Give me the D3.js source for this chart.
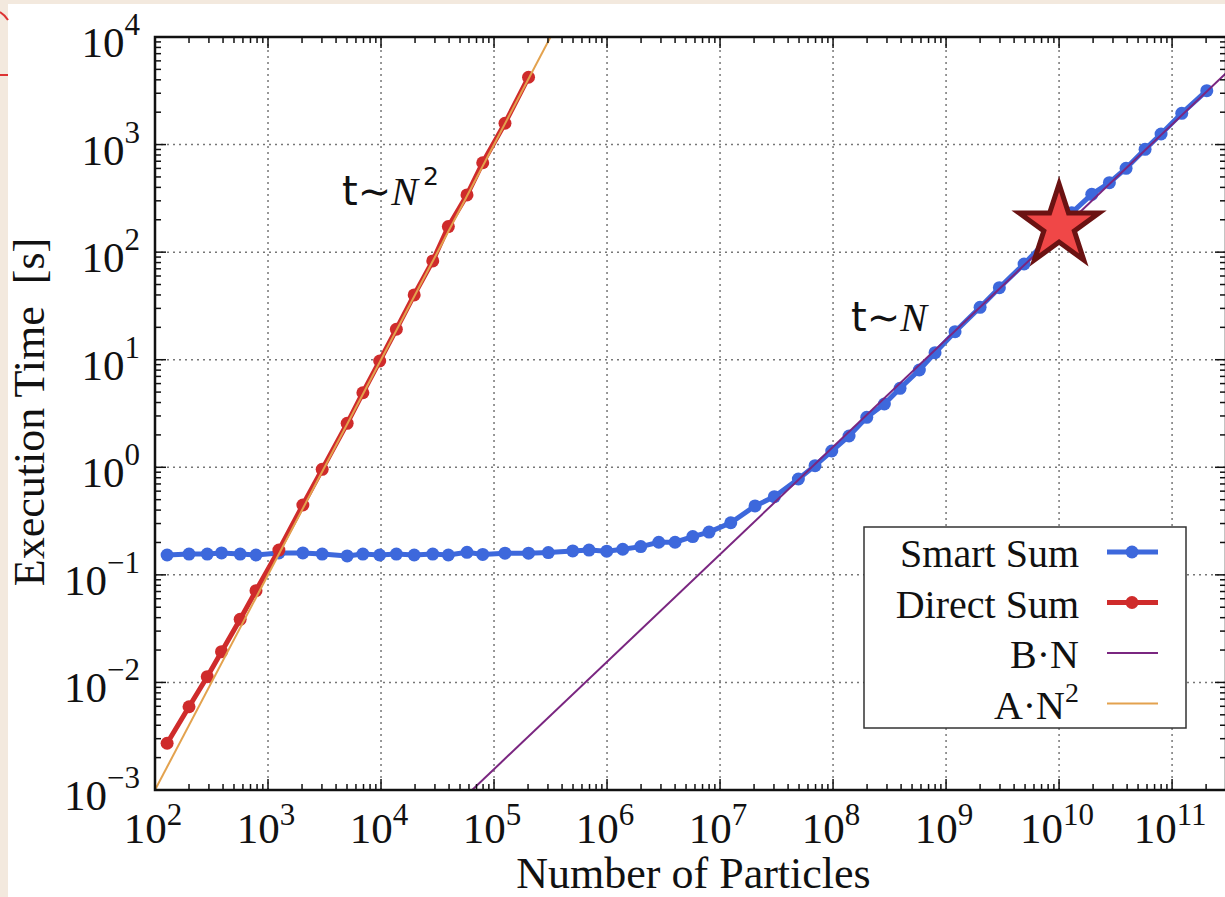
<!DOCTYPE html>
<html>
<head>
<meta charset="utf-8">
<script src="https://cdn.jsdelivr.net/npm/d3@7"></script>
<style>
  body { margin: 0; background: #f3e9de; overflow: hidden; }
  text { font-family: "Liberation Serif", "Times New Roman", serif; fill: #111; }
</style>
</head>
<body>
<div id="chart"></div>
<script>
// particle counts (shared by both runs)
var particles = [128, 200, 290, 388, 567, 783, 1248, 2034, 3016, 5018,
  6908, 9730, 13670, 19656, 28695, 39428, 57650, 79433, 125000, 202000,
  302300, 497200, 692900, 993800, 1.377e6, 1.987e6, 2.868e6, 3.998e6, 5.734e6, 7.991e6,
  1.244e7, 2.040e7, 3.023e7, 4.932e7, 6.929e7, 9.739e7, 1.385e8, 1.987e8, 2.844e8, 3.916e8,
  5.802e8, 7.991e8, 1.201e9, 2.000e9, 2.963e9, 4.901e9, 7.991e9, 1.295e10, 1.947e10, 2.787e10,
  3.916e10, 5.768e10, 7.991e10, 1.218e11, 2.028e11];

// execution time [s]
var smartTime = [0.153, 0.156, 0.156, 0.160, 0.156, 0.153, 0.160, 0.160, 0.156, 0.150,
  0.156, 0.153, 0.156, 0.153, 0.156, 0.153, 0.162, 0.155, 0.159, 0.159,
  0.161, 0.167, 0.170, 0.166, 0.173, 0.183, 0.201, 0.201, 0.227, 0.250,
  0.305, 0.437, 0.533, 0.778, 1.035, 1.417, 1.954, 2.916, 3.876, 5.424,
  8.024, 11.62, 18.22, 30.71, 46.71, 77.6, 132.5, 232.6, 345, 442,
  602, 903, 1254, 1953, 3168];

var directTime = [0.00272, 0.00594, 0.0113, 0.0193, 0.0386, 0.0713, 0.170, 0.446, 0.957, 2.56,
  4.93, 9.73, 19.2, 40.0, 82.8, 173, 340, 678, 1578, 4227];

// fit lines, end points
var fitBN = [[6.4e4, 1e-3], [3e11, 4.6e3]];
var fitAN2 = [[1e2, 1e-3], [3.16e5, 1e4]];

var starPoint = [1e10, 175];

var xExponents = [2, 3, 4, 5, 6, 7, 8, 9, 10, 11];
var yExponents = [-3, -2, -1, 0, 1, 2, 3, 4];

var legendLabels = ["Smart Sum", "Direct Sum", "B\u00b7N", "A\u00b7N"];
var legendColors = ["#3d68dc", "#cf2b2b", "#7a2680", "#e3a24e"];

var width = 1225, height = 897;
var blue = legendColors[0], red = legendColors[1], purple = legendColors[2], orange = legendColors[3];

var svg = d3.select("#chart")
    .append("svg")
    .attr("width", width)
    .attr("height", height);

// page background (white slide on beige)
svg.append("rect")
    .attr("x", 8).attr("y", 4)
    .attr("width", width - 8).attr("height", height - 4)
    .attr("fill", "white");
svg.append("path").attr("d", "M0,12 Q5,15 8,20").attr("stroke", "#d33").attr("stroke-width", 2).attr("fill", "none");
svg.append("path").attr("d", "M0,75 L8,75").attr("stroke", "#d33").attr("stroke-width", 2);

var x = d3.scaleLog()
    .domain([1e2, 3e11])
    .range([155, 1226]);
var y = d3.scaleLog()
    .domain([1e-3, 1e4])
    .range([790, 37]);

var x0 = x.range()[0], x1 = x.range()[1], y0 = y.range()[0], y1 = y.range()[1];

svg.append("clipPath").attr("id", "plot")
    .append("rect")
    .attr("x", x0).attr("y", y1)
    .attr("width", x1 - x0).attr("height", y0 - y1);

// grid
var grid = svg.append("g")
    .attr("stroke", "#777")
    .attr("stroke-width", 1.5)
    .attr("stroke-dasharray", "2,4");
xExponents.slice(1).forEach(function (e) {
    grid.append("line")
        .attr("x1", x(Math.pow(10, e))).attr("x2", x(Math.pow(10, e)))
        .attr("y1", y0).attr("y2", y1);
});
yExponents.slice(1, -1).forEach(function (e) {
    grid.append("line")
        .attr("x1", x0).attr("x2", x1)
        .attr("y1", y(Math.pow(10, e))).attr("y2", y(Math.pow(10, e)));
});

var plot = svg.append("g").attr("clip-path", "url(#plot)");

var line = d3.line()
    .x(function (d) { return x(d[0]); })
    .y(function (d) { return y(d[1]); });

var smart = particles.map(function (n, i) { return [n, smartTime[i]]; });
var direct = directTime.map(function (t, i) { return [particles[i], t]; });

// Smart Sum
plot.append("path")
    .datum(smart)
    .attr("d", line)
    .attr("fill", "none")
    .attr("stroke", blue)
    .attr("stroke-width", 5);
plot.append("g").selectAll("circle")
    .data(smart)
    .enter()
    .append("circle")
    .attr("cx", function (d) { return x(d[0]); })
    .attr("cy", function (d) { return y(d[1]); })
    .attr("r", 6.5)
    .attr("fill", blue);

// Direct Sum
plot.append("path")
    .datum(direct)
    .attr("d", line)
    .attr("fill", "none")
    .attr("stroke", red)
    .attr("stroke-width", 5);
plot.append("g").selectAll("circle")
    .data(direct)
    .enter()
    .append("circle")
    .attr("cx", function (d) { return x(d[0]); })
    .attr("cy", function (d) { return y(d[1]); })
    .attr("r", 6.5)
    .attr("fill", red);

// fits
plot.append("path").datum(fitBN).attr("d", line)
    .attr("stroke", purple).attr("stroke-width", 2).attr("fill", "none");
plot.append("path").datum(fitAN2).attr("d", line)
    .attr("stroke", orange).attr("stroke-width", 2).attr("fill", "none");

// frame
svg.append("rect")
    .attr("x", x0).attr("y", y1)
    .attr("width", x1 - x0).attr("height", y0 - y1)
    .attr("fill", "none")
    .attr("stroke", "#111")
    .attr("stroke-width", 2.5);

// ticks (inward, all four sides)
var ticks = svg.append("g").attr("stroke", "#111").attr("stroke-width", 1.5);
xExponents.forEach(function (e) {
    for (var m = 1; m <= 9; m++) {
        var v = m * Math.pow(10, e);
        if (v > x.domain()[1]) break;
        var len = m === 1 ? 11 : 6;
        ticks.append("line").attr("x1", x(v)).attr("x2", x(v)).attr("y1", y0).attr("y2", y0 - len);
        ticks.append("line").attr("x1", x(v)).attr("x2", x(v)).attr("y1", y1).attr("y2", y1 + len);
    }
});
yExponents.forEach(function (e) {
    for (var m = 1; m <= 9; m++) {
        var v = m * Math.pow(10, e);
        if (v > y.domain()[1]) break;
        var len = m === 1 ? 11 : 6;
        ticks.append("line").attr("y1", y(v)).attr("y2", y(v)).attr("x1", x0).attr("x2", x0 + len);
        ticks.append("line").attr("y1", y(v)).attr("y2", y(v)).attr("x1", x1).attr("x2", x1 - len);
    }
});

function expText(e) {
    return e < 0 ? "\u2212" + (-e) : String(e);
}

// tick labels
xExponents.forEach(function (e) {
    var t = svg.append("text")
        .attr("x", x(Math.pow(10, e)) - 2)
        .attr("y", y0 + 53)
        .attr("text-anchor", "middle")
        .style("font-size", "43px");
    t.append("tspan").text("10");
    t.append("tspan").attr("dy", -18).style("font-size", "31px").text(expText(e));
});
yExponents.forEach(function (e) {
    var t = svg.append("text")
        .attr("x", 140)
        .attr("y", y(Math.pow(10, e)) + 20)
        .attr("text-anchor", "end")
        .style("font-size", "43px");
    t.append("tspan").text("10");
    t.append("tspan").attr("dy", -22).style("font-size", "31px").text(expText(e));
});

// axis titles
svg.append("text")
    .attr("x", (x0 + x1) / 2 + 3)
    .attr("y", 888)
    .attr("text-anchor", "middle")
    .style("font-size", "44px")
    .text("Number of Particles");
svg.append("text")
    .attr("transform", "translate(44,412) rotate(-90)")
    .attr("text-anchor", "middle")
    .style("font-size", "44px")
    .style("white-space", "pre")
    .text("Execution Time  [s]");

// legend
var legend = svg.append("g");
legend.append("rect")
    .attr("x", 864).attr("y", 527)
    .attr("width", 322).attr("height", 201)
    .attr("fill", "white")
    .attr("stroke", "#333")
    .attr("stroke-width", 1.5);
legendLabels.forEach(function (label, i) {
    var ly = 552 + i * 50.5;
    var t = legend.append("text")
        .attr("x", 1079)
        .attr("y", ly + 15)
        .attr("text-anchor", "end")
        .style("font-size", "40px");
    t.append("tspan").text(label);
    if (i === 3) t.append("tspan").attr("dy", -17).style("font-size", "28px").text("2");
    legend.append("line")
        .attr("x1", 1107).attr("x2", 1158)
        .attr("y1", ly).attr("y2", ly)
        .attr("stroke", legendColors[i])
        .attr("stroke-width", i < 2 ? 5 : 2);
    if (i < 2) {
        legend.append("circle")
            .attr("cx", 1132).attr("cy", ly).attr("r", 6.5)
            .attr("fill", legendColors[i]);
    }
});

// star marker
svg.append("path")
    .attr("d", d3.symbol().type(d3.symbolStar).size(1980))
    .attr("transform", "translate(" + x(starPoint[0]) + "," + y(starPoint[1]) + ")")
    .attr("fill", "#f04747")
    .attr("stroke", "#6b1212")
    .attr("stroke-width", 5)
    .attr("stroke-linejoin", "miter");

// scaling annotations
function annotate(px, py, sup) {
    var t = svg.append("text")
        .attr("x", px)
        .attr("y", py)
        .style("font-size", "40px");
    t.append("tspan").style("font-family", "'DejaVu Sans', sans-serif").text("t\u223c");
    t.append("tspan").style("font-family", "'Liberation Serif', serif")
        .style("font-style", "italic").text("N");
    if (sup) t.append("tspan").attr("dx", 5).attr("dy", -20)
        .style("font-family", "'DejaVu Sans', sans-serif")
        .style("font-size", "25px").text(sup);
}
annotate(342, 205, "2");
annotate(851, 331, null);
</script>
</body>
</html>
